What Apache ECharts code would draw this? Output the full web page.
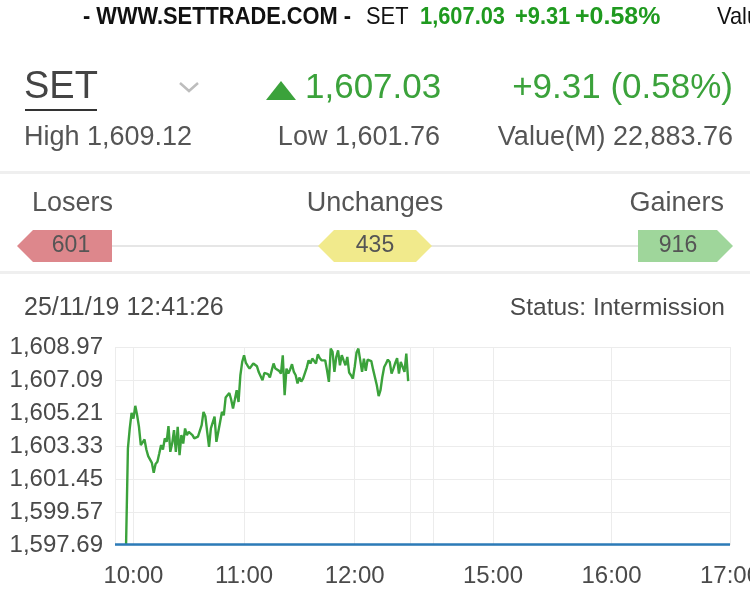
<!DOCTYPE html>
<html>
<head>
<meta charset="utf-8">
<script src="https://cdn.jsdelivr.net/npm/echarts@6/dist/echarts.min.js"></script>
<style>
html,body{margin:0;padding:0;background:#fff;}
#chart{width:750px;height:596px;}
</style>
</head>
<body>
<div id="chart"></div>
<script>
// ---------- data ----------
const indexName = 'SET';
const lastPrice = 1607.03;
const change = 9.31;
const changePct = 0.58;
const prevClose = 1597.72;
const highPrice = 1609.12;
const lowPrice = 1601.76;
const valueM = 22883.76;
const breadthLabels = ['Losers', 'Unchanges', 'Gainers'];
const breadthCounts = [601, 435, 916];
const timestamp = '25/11/19 12:41:26';
const statusText = 'Status: Intermission';

const yTickValues = [1597.69, 1599.57, 1601.45, 1603.33, 1605.21, 1607.09, 1608.97];
const morningTickLabels = ['10:00', '11:00', '12:00'];
const afternoonTickLabels = ['15:00', '16:00', '17:00'];
const morningGridTimes = ['09:50', '10:00', '11:00', '12:00', '12:30'];
const afternoonGridTimes = ['14:18', '14:30', '15:00', '16:00', '17:00'];

function minuteSlots(start, end) {
  const toMin = s => { const p = s.split(':'); return +p[0] * 60 + +p[1]; };
  const out = [];
  for (let m = toMin(start); m <= toMin(end); m++) {
    out.push(String(Math.floor(m / 60)).padStart(2, '0') + ':' + String(m % 60).padStart(2, '0'));
  }
  return out;
}
const morningSlots = minuteSlots('09:50', '12:30');
const afternoonSlots = minuteSlots('14:18', '17:00');

// SET index, one value per minute from 09:50 (null = no trade yet)
const morningValues = [
  null, null, null, null, null, null,
  1597.72, 1603.19, 1604.33, 1605.22, 1604.89, 1605.62, 1605.08, 1604.42, 1603.38, 1603.32,
  1603.70, 1603.13, 1602.75, 1602.81, 1602.37, 1601.80, 1602.30, 1602.43, 1602.90, 1603.38,
  1603.13, 1603.76, 1603.57, 1604.46, 1603.00, 1603.47, 1604.23, 1603.00, 1604.42, 1602.81,
  1603.95, 1603.47, 1604.33, 1603.95, 1604.14, 1604.08, 1603.95, 1603.76, 1603.76, 1603.86,
  1603.86, 1604.52, 1605.27, 1605.03, 1604.14, 1603.28, 1604.33, 1604.42, 1605.00, 1603.57,
  1603.66, 1604.70, 1605.27, 1605.08, 1606.09, 1606.18, 1606.35, 1605.98, 1605.47, 1605.98,
  1606.51, 1605.84, 1607.36, 1608.12, 1608.50, 1608.06, 1607.89, 1607.74, 1607.74, 1608.03,
  1608.12, 1607.87, 1607.53, 1607.42, 1607.08, 1607.49, 1607.41, 1607.42, 1607.23, 1607.64,
  1608.03, 1607.74, 1607.74, 1607.61, 1607.46, 1608.50, 1606.22, 1607.74, 1607.46, 1607.69,
  1607.99, 1607.55, 1607.36, 1606.89, 1607.23, 1607.00, 1607.17, 1607.27, 1607.80, 1608.21,
  1608.03, 1608.31, 1608.21, 1608.03, 1608.55, 1608.34, 1608.21, 1608.10, 1608.21, 1607.64,
  1606.98, 1608.88, 1608.69, 1607.55, 1608.40, 1608.78, 1607.93, 1608.50, 1608.21, 1607.93,
  1608.40, 1607.51, 1607.36, 1607.17, 1607.83, 1608.65, 1608.88, 1608.78, 1607.55, 1608.31,
  1607.61, 1608.25, 1608.31, 1608.17, 1607.68, 1607.61, 1606.79, 1606.17, 1606.51, 1607.26,
  1607.83, 1608.03, 1608.25, 1608.12, 1607.46, 1607.74, 1608.06, 1608.34, 1607.46, 1608.12,
  1608.12, 1607.55, 1608.59, 1607.03, null
];

// ---------- helpers ----------
const FONT = '"Liberation Sans", Helvetica, Arial, sans-serif';
const fmt = v => Number(v).toLocaleString('en-US', {minimumFractionDigits: 2, maximumFractionDigits: 2});
const GREEN = '#3ba23b';
const TXT = '#4a4a4a';

function txt(text, x, y, size, color, align, weight, scaleX) {
  return {
    type: 'text', x: x, y: y, scaleX: scaleX || 1,
    style: {
      text: text, fill: color,
      font: (weight || 'normal') + ' ' + size + 'px ' + FONT,
      textAlign: align || 'left', textVerticalAlign: 'middle'
    }
  };
}

const g = [];
// ticker bar
g.push(txt('- WWW.SETTRADE.COM -', 83, 17, 24, '#111', 'left', 'bold', 0.91));
g.push(txt(indexName, 366, 17, 24, '#111', 'left', 'normal', 0.91));
g.push(txt(fmt(lastPrice), 420, 17, 24, '#1f9a1f', 'left', 'bold', 0.91));
g.push(txt('+' + change.toFixed(2), 515, 17, 24, '#1f9a1f', 'left', 'bold', 0.91));
g.push(txt('+' + changePct.toFixed(2) + '%', 575, 17, 24, '#1f9a1f', 'left', 'bold', 1.04));
g.push(txt('Value(M) ' + fmt(valueM), 717, 17, 24, '#111', 'left', 'normal', 0.91));

// main quote
g.push(txt(indexName, 24, 88, 38, '#444', 'left'));
g.push({type: 'rect', shape: {x: 25, y: 109, width: 72, height: 2}, style: {fill: '#333'}});
g.push({type: 'polyline', shape: {points: [[180, 83], [189, 91], [198, 83]]}, style: {stroke: '#bdbdbd', lineWidth: 2.5, fill: null}});
g.push({type: 'polygon', shape: {points: [[266, 100], [281, 81], [296, 100]]}, style: {fill: GREEN}});
g.push(txt(fmt(lastPrice), 305, 88, 35, GREEN, 'left'));
g.push(txt('+' + change.toFixed(2) + ' (' + changePct.toFixed(2) + '%)', 733, 88, 35, GREEN, 'right'));
g.push(txt('High ' + fmt(highPrice), 24, 138, 27, '#555', 'left'));
g.push(txt('Low ' + fmt(lowPrice), 440, 138, 27, '#555', 'right'));
g.push(txt('Value(M) ' + fmt(valueM), 733, 138, 27, '#555', 'right'));

// separators
g.push({type: 'rect', shape: {x: 0, y: 171, width: 750, height: 3}, style: {fill: '#efefef'}});
g.push({type: 'rect', shape: {x: 0, y: 271, width: 750, height: 3}, style: {fill: '#efefef'}});

// market breadth
g.push(txt(breadthLabels[0], 32, 204, 27, '#555', 'left'));
g.push(txt(breadthLabels[1], 375, 204, 27, '#555', 'center'));
g.push(txt(breadthLabels[2], 724, 204, 27, '#555', 'right'));
g.push({type: 'rect', shape: {x: 112, y: 245, width: 526, height: 2}, style: {fill: '#e6e6e6'}});
g.push({type: 'polygon', shape: {points: [[17, 246], [33, 230], [112, 230], [112, 262], [33, 262]]}, style: {fill: '#dd878c'}});
g.push({type: 'polygon', shape: {points: [[318, 246], [334, 230], [416, 230], [432, 246], [416, 262], [334, 262]]}, style: {fill: '#f1ea8c'}});
g.push({type: 'polygon', shape: {points: [[638, 230], [717, 230], [733, 246], [717, 262], [638, 262]]}, style: {fill: '#9fd69b'}});
g.push(txt(String(breadthCounts[0]), 71, 246, 23, '#555', 'center'));
g.push(txt(String(breadthCounts[1]), 375, 246, 23, '#555', 'center'));
g.push(txt(String(breadthCounts[2]), 678, 246, 23, '#555', 'center'));

// chart header
g.push(txt(timestamp, 24, 308, 25, TXT, 'left'));
g.push(txt(statusText, 725, 308, 24.5, TXT, 'right'));

// ---------- chart ----------
const yMin = yTickValues[0];
const yMax = yTickValues[yTickValues.length - 1];
const yStep = +(yTickValues[1] - yTickValues[0]).toFixed(2);

const gridLine = {show: true, lineStyle: {color: '#ececec', width: 1}};

const option = {
  animation: false,
  backgroundColor: '#fff',
  graphic: {elements: g},
  grid: [
    {left: 115, top: 347, width: 295, height: 198, containLabel: false, outerBoundsMode: 'none'},
    {left: 410, top: 347, width: 320, height: 198, containLabel: false, outerBoundsMode: 'none'}
  ],
  xAxis: [
    {
      type: 'category', gridIndex: 0, data: morningSlots, boundaryGap: false,
      axisLine: {show: false}, axisTick: {show: false},
      axisLabel: {
        interval: (i, v) => morningTickLabels.indexOf(v) >= 0,
        color: TXT, fontSize: 24, fontFamily: FONT, margin: 19
      },
      splitLine: {show: true, interval: (i, v) => morningGridTimes.indexOf(v) >= 0, lineStyle: {color: '#ececec', width: 1}}
    },
    {
      type: 'category', gridIndex: 1, data: afternoonSlots, boundaryGap: false,
      axisLine: {show: false}, axisTick: {show: false},
      axisLabel: {
        interval: (i, v) => afternoonTickLabels.indexOf(v) >= 0,
        color: TXT, fontSize: 24, fontFamily: FONT, margin: 19
      },
      splitLine: {show: true, interval: (i, v) => afternoonGridTimes.indexOf(v) >= 0, lineStyle: {color: '#ececec', width: 1}}
    }
  ],
  yAxis: [
    {
      type: 'value', gridIndex: 0, min: yMin, max: yMax, interval: yStep,
      axisLine: {show: false}, axisTick: {show: false},
      axisLabel: {formatter: v => fmt(v), color: TXT, fontSize: 24, fontFamily: FONT, margin: 12},
      splitLine: gridLine
    },
    {
      type: 'value', gridIndex: 1, min: yMin, max: yMax, interval: yStep,
      axisLine: {show: false}, axisTick: {show: false},
      axisLabel: {show: false},
      splitLine: gridLine
    }
  ],
  series: [
    {
      name: indexName, type: 'line', xAxisIndex: 0, yAxisIndex: 0,
      data: morningValues, showSymbol: false, connectNulls: false,
      lineStyle: {color: GREEN, width: 2.4}, itemStyle: {color: GREEN}, z: 3
    },
    {
      name: 'Prev close', type: 'line', xAxisIndex: 0, yAxisIndex: 0,
      data: [[morningSlots[0], prevClose], [morningSlots[morningSlots.length - 1], prevClose]],
      showSymbol: false, lineStyle: {color: '#2c7bb8', width: 2.5}, z: 4
    },
    {
      name: 'Prev close PM', type: 'line', xAxisIndex: 1, yAxisIndex: 1,
      data: [[afternoonSlots[0], prevClose], [afternoonSlots[afternoonSlots.length - 1], prevClose]],
      showSymbol: false, lineStyle: {color: '#2c7bb8', width: 2.5}, z: 4
    }
  ]
};

const chart = echarts.init(document.getElementById('chart'), null, {renderer: 'canvas'});
chart.setOption(option);
</script>
</body>
</html>
